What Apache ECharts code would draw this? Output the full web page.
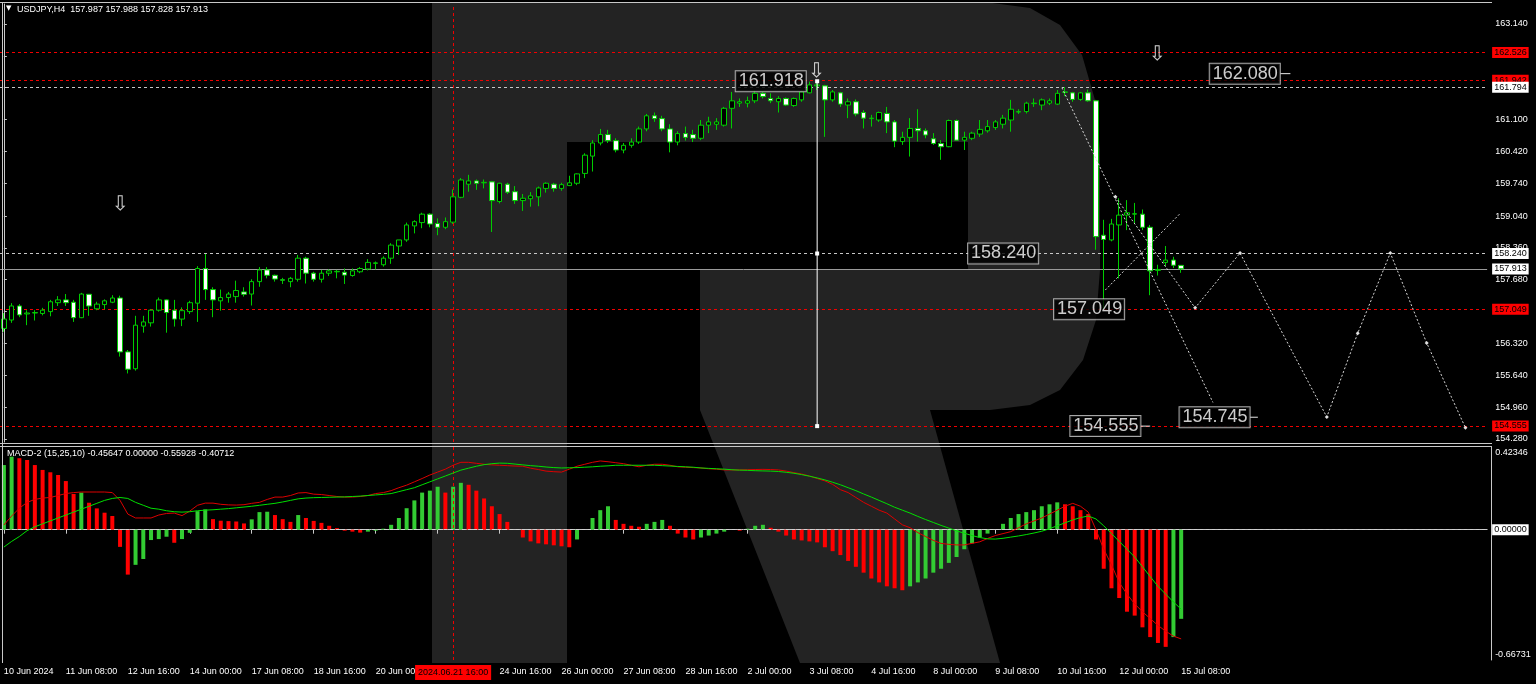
<!DOCTYPE html>
<html><head><meta charset="utf-8">
<script src="https://cdn.jsdelivr.net/npm/echarts@6/dist/echarts.min.js"></script>
<style>html,body{margin:0;padding:0;background:#000;}#c{width:1536px;height:684px;}</style>
</head><body><div id="c"></div><script>
const symbolName = 'USDJPY,H4';
const tickLabels = ['10 Jun 2024','11 Jun 08:00','12 Jun 16:00','14 Jun 00:00','17 Jun 08:00','18 Jun 16:00','20 Jun 00:00','21 Jun 08:00','24 Jun 16:00','26 Jun 00:00','27 Jun 08:00','28 Jun 16:00','2 Jul 00:00','3 Jul 08:00','4 Jul 16:00','8 Jul 00:00','9 Jul 08:00','10 Jul 16:00','12 Jul 00:00','15 Jul 08:00'];
const crossTime = '2024.06.21 16:00';
const crossBar = 58;

const opens = [156.64,156.82,157.12,156.95,156.97,156.96,157.00,157.19,157.25,157.20,
156.87,157.37,157.06,157.15,157.20,157.29,156.14,155.78,156.69,156.76,
157.03,157.25,157.03,156.84,157.00,157.18,157.92,157.47,157.23,157.30,
157.32,157.42,157.375,157.64,157.89,157.775,157.68,157.64,157.69,158.14,
157.82,157.69,157.82,157.85,157.84,157.77,157.85,157.91,158.03,158.00,
158.14,158.40,158.53,158.83,158.90,159.08,158.88,158.80,158.91,159.44,
159.72,159.79,159.75,159.77,159.35,159.72,159.56,159.37,159.41,159.45,
159.63,159.72,159.63,159.69,159.74,159.95,160.32,160.60,160.78,160.65,
160.45,160.55,160.62,160.90,161.18,161.12,160.90,160.62,160.80,160.78,
160.70,160.98,161.00,160.98,161.34,161.45,161.45,161.50,161.66,161.55,
161.48,161.55,161.40,161.52,161.67,161.82,161.82,161.52,161.67,161.41,
161.48,161.25,161.12,161.09,161.23,161.05,160.63,160.72,160.91,160.86,
160.69,160.59,160.52,161.08,160.66,160.70,160.79,160.86,160.93,161.00,
161.09,161.26,161.27,161.44,161.41,161.45,161.43,161.68,161.67,161.53,
161.67,161.50,158.63,158.53,158.85,159.06,159.08,159.08,158.80,157.88,
158.05,158.10,157.987];
const highs = [156.97,157.18,157.16,157.03,157.03,157.08,157.25,157.33,157.375,157.25,
157.40,157.37,157.21,157.26,157.35,157.34,156.18,156.91,156.91,157.05,
157.30,157.26,157.25,157.09,157.23,157.97,158.23,157.52,157.47,157.42,
157.66,157.52,157.69,157.95,157.95,157.79,157.72,157.74,158.21,158.17,
157.85,157.89,157.90,157.89,157.92,157.92,157.95,158.12,158.07,158.18,
158.46,158.53,158.90,158.95,159.11,159.10,158.99,159.01,159.61,159.85,
159.92,159.82,159.82,159.79,159.75,159.75,159.68,159.51,159.55,159.67,
159.76,159.75,159.75,159.90,159.95,160.38,160.66,160.90,160.88,160.70,
160.60,160.70,160.95,161.22,161.25,161.18,161.00,160.85,160.95,160.88,
161.09,161.16,161.13,161.37,161.69,161.55,161.59,161.73,161.69,161.66,
161.60,161.57,161.57,161.73,161.91,161.918,161.84,161.73,161.69,161.55,
161.53,161.30,161.20,161.27,161.37,161.09,160.84,161.13,161.32,160.91,
160.81,160.66,161.10,161.10,160.84,160.84,161.09,161.09,161.09,161.20,
161.52,161.32,161.48,161.55,161.55,161.55,161.73,161.794,161.69,161.69,
161.74,161.52,158.96,158.98,159.42,159.38,159.32,159.18,158.85,158.00,
158.40,158.17,157.988];
const lows = [156.57,156.76,156.88,156.71,156.81,156.92,156.90,157.12,157.12,156.78,
156.86,156.91,157.03,157.05,157.18,156.04,155.68,155.74,156.55,156.68,
157.00,156.55,156.68,156.69,156.95,156.78,157.25,156.88,157.02,157.19,
157.19,157.32,157.13,157.53,157.71,157.64,157.59,157.52,157.64,157.60,
157.64,157.62,157.76,157.71,157.59,157.745,157.82,157.88,157.90,157.96,
158.02,158.21,158.49,158.67,158.78,158.80,158.63,158.76,158.87,159.42,
159.56,159.60,159.63,158.70,159.31,159.51,159.30,159.15,159.24,159.25,
159.54,159.56,159.58,159.68,159.70,159.85,159.99,160.55,160.60,160.40,
160.38,160.50,160.58,160.85,161.05,160.85,160.40,160.55,160.65,160.62,
160.66,160.81,160.88,160.95,160.91,161.37,161.36,161.45,161.55,161.45,
161.25,161.39,161.37,161.48,161.66,161.73,160.73,161.48,161.37,161.13,
161.17,160.91,160.95,161.05,160.81,160.51,160.56,160.31,160.63,160.70,
160.56,160.24,160.51,160.65,160.45,160.66,160.73,160.82,160.88,160.91,
160.84,161.22,161.23,161.37,161.30,161.41,161.41,161.60,161.48,161.50,
161.48,158.32,157.049,158.50,157.71,158.74,158.87,158.74,157.35,157.77,
157.97,157.93,157.828];
const closes = [156.84,157.12,156.93,156.97,156.98,157.03,157.21,157.25,157.19,156.87,
157.375,157.12,157.16,157.23,157.29,156.14,155.77,156.71,156.78,157.03,
157.25,156.98,156.84,157.02,157.19,157.92,157.47,157.25,157.30,157.375,
157.45,157.37,157.64,157.89,157.775,157.695,157.67,157.71,158.14,157.82,
157.69,157.82,157.87,157.86,157.78,157.87,157.92,158.05,158.04,158.14,
158.42,158.53,158.85,158.92,159.08,158.87,158.80,158.92,159.45,159.81,
159.79,159.74,159.76,159.37,159.74,159.55,159.37,159.42,159.47,159.64,
159.74,159.63,159.71,159.75,159.94,160.34,160.60,160.78,160.65,160.45,
160.55,160.62,160.90,161.18,161.12,160.90,160.62,160.80,160.72,160.70,
160.98,161.05,161.05,161.34,161.50,161.48,161.50,161.66,161.59,161.50,
161.55,161.41,161.55,161.69,161.84,161.84,161.52,161.69,161.43,161.48,
161.22,161.13,161.13,161.25,161.05,160.64,160.72,160.91,160.86,160.77,
160.59,160.52,161.08,160.66,160.72,160.81,160.89,160.95,161.05,161.13,
161.32,161.27,161.45,161.45,161.52,161.50,161.66,161.69,161.53,161.67,
161.50,158.60,158.54,158.87,159.06,159.11,159.09,158.80,157.87,157.90,
158.10,157.99,157.913];

const macdHist = [0.331,0.374,0.366,0.357,0.331,0.306,0.294,0.28,0.249,0.183,
0.19,0.138,0.109,0.087,0.07,-0.088,-0.23,-0.18,-0.15,-0.053,
-0.048,-0.036,-0.067,-0.048,-0.016,0.095,0.104,0.054,0.046,0.044,
0.042,0.032,0.053,0.09,0.092,0.075,0.054,0.04,0.075,0.06,
0.045,0.035,0.02,0.008,-0.005,-0.01,-0.015,-0.01,-0.005,0.005,
0.025,0.06,0.11,0.15,0.19,0.2,0.22,0.19,0.22,0.24,
0.23,0.2,0.16,0.12,0.08,0.04,0.0,-0.04,-0.06,-0.07,
-0.075,-0.08,-0.085,-0.09,-0.05,0.0,0.06,0.1,0.12,0.05,
0.03,0.02,0.015,0.03,0.04,0.05,0.02,-0.02,-0.04,-0.05,
-0.04,-0.03,-0.02,-0.01,0.0,-0.005,0.005,0.02,0.025,0.01,
-0.01,-0.03,-0.05,-0.055,-0.06,-0.065,-0.09,-0.11,-0.13,-0.16,
-0.19,-0.22,-0.25,-0.27,-0.29,-0.3,-0.31,-0.29,-0.27,-0.25,
-0.22,-0.2,-0.17,-0.14,-0.1,-0.07,-0.04,-0.02,0.0,0.03,
0.06,0.08,0.09,0.1,0.12,0.13,0.14,0.13,0.12,0.1,
0.08,-0.05,-0.2,-0.3,-0.35,-0.42,-0.44,-0.5,-0.55,-0.58,
-0.6,-0.55,-0.45647];
const macdRed = [0.024,0.07,0.11,0.14,0.155,0.162,0.165,0.175,0.185,0.19,
0.193,0.193,0.193,0.193,0.19,0.15,0.08,0.06,0.06,0.06,
0.075,0.083,0.085,0.072,0.095,0.125,0.136,0.136,0.13,0.127,
0.126,0.128,0.135,0.14,0.155,0.167,0.167,0.175,0.188,0.19,
0.182,0.18,0.175,0.17,0.167,0.167,0.17,0.175,0.185,0.19,
0.2,0.215,0.228,0.245,0.262,0.28,0.295,0.31,0.33,0.345,
0.345,0.34,0.335,0.332,0.33,0.328,0.326,0.325,0.315,0.308,
0.3,0.297,0.295,0.31,0.325,0.335,0.345,0.352,0.348,0.343,
0.338,0.33,0.322,0.33,0.335,0.335,0.33,0.322,0.32,0.318,
0.316,0.312,0.31,0.306,0.306,0.306,0.307,0.308,0.309,0.308,
0.306,0.3,0.292,0.285,0.275,0.262,0.25,0.232,0.205,0.19,
0.165,0.14,0.12,0.1,0.085,0.055,0.025,0.01,-0.015,-0.035,
-0.055,-0.07,-0.075,-0.078,-0.078,-0.07,-0.062,-0.045,-0.03,-0.02,
-0.01,0.01,0.03,0.045,0.06,0.08,0.1,0.12,0.135,0.12,
0.09,0.0,-0.1,-0.18,-0.27,-0.33,-0.38,-0.42,-0.455,-0.49,
-0.52,-0.545,-0.55928];
const macdGreen = [-0.089,-0.06,-0.035,-0.005,0.015,0.03,0.045,0.06,0.075,0.09,
0.105,0.12,0.135,0.15,0.16,0.165,0.16,0.14,0.125,0.11,
0.105,0.097,0.092,0.09,0.092,0.097,0.1,0.102,0.105,0.108,
0.112,0.116,0.12,0.125,0.13,0.135,0.142,0.15,0.158,0.162,
0.164,0.165,0.166,0.167,0.168,0.17,0.172,0.175,0.178,0.181,
0.185,0.195,0.205,0.215,0.23,0.245,0.26,0.275,0.29,0.305,
0.315,0.325,0.333,0.338,0.341,0.34,0.336,0.332,0.328,0.325,
0.321,0.318,0.316,0.317,0.318,0.32,0.322,0.325,0.327,0.33,
0.33,0.33,0.33,0.33,0.33,0.328,0.326,0.324,0.322,0.32,
0.316,0.314,0.312,0.31,0.307,0.305,0.304,0.302,0.301,0.3,
0.298,0.294,0.289,0.282,0.274,0.265,0.255,0.243,0.23,0.215,
0.2,0.183,0.167,0.15,0.133,0.115,0.1,0.085,0.068,0.052,
0.037,0.022,0.008,-0.006,-0.018,-0.03,-0.04,-0.047,-0.048,-0.044,
-0.038,-0.032,-0.025,-0.017,-0.008,0.005,0.02,0.035,0.05,0.062,
0.07,0.055,0.02,-0.02,-0.06,-0.1,-0.14,-0.19,-0.24,-0.29,
-0.33,-0.37,-0.40712];

const priceTicks = [163.140,162.460,161.780,161.100,160.420,159.740,159.040,158.360,157.680,157.000,156.320,155.640,154.960,154.280];
const macdTicks = [0.42346,-0.66731];
const levelValues = [162.526,161.942,161.794,158.240,157.913,157.049,154.555];
const levelKinds = ['red','red','white','white','bid','red','red'];

const projA = [[136.6,161.78],[156.1,155.06]];
const projB = [[143.5,159.45],[153.8,157.08],[159.6,158.25],[170.8,154.75],[174.8,156.54],[179.0,158.25],[183.7,156.33],[188.7,154.52]];
const projC = [[142.2,157.46],[151.9,159.10]];
const measureLine = [[105,161.918],[105,158.240],[105,154.555]];
const calloutText = ['161.918','162.080','158.240','157.049','154.555','154.745'];
const calloutX = [103.6,164.8,133.6,144.7,146.8,160.9];
const calloutY = [161.918,162.080,158.240,157.049,154.555,154.745];
const calloutTailEnd = [null,166.1,null,null,148.0,161.9];
const arrowX = [15.0,104.9,148.9];
const arrowY = [159.28,162.12,162.48];

const N = 192;
const cats = Array.from({length:N},(_, i)=>String(i));
const FONT = 'Liberation Sans';
const GREEN = '#00cc00';
const RED_LINE = '#f00000';

const chart = echarts.init(document.getElementById('c'), null, {renderer:'canvas'});

const levelLines = levelValues.map((v,i)=>{
  const k = levelKinds[i];
  const isRed = k==='red';
  return {
    yAxis: v,
    lineStyle: {color: isRed ? RED_LINE : (k==='bid' ? '#9a9a9a' : '#c8c8c8'), type: k==='bid' ? 'solid' : [3,3], width: 1, opacity: 1},
    label: {show:true, position:'end', distance:5, formatter: v.toFixed(3), fontFamily: FONT, fontSize: 9,
      color:'#000', backgroundColor: isRed ? '#ff0000' : '#ffffff', padding:[1,2,0,2], lineHeight: 10}
  };
});

const overlaySeries = [];
function projLine(pts, sym){
  overlaySeries.push({type:'line', xAxisIndex:1, yAxisIndex:0, data: pts, silent:true, z:6,
    showSymbol: !!sym, symbol: sym||'none', symbolSize: 4, itemStyle:{color:'#e0e0e0'},
    lineStyle:{color:'#d8d8d8', width:1, type:[2,2]}, animation:false});
}
projLine(projA);
projLine(projB, 'diamond');
projLine(projC);
overlaySeries.push({type:'line', xAxisIndex:1, yAxisIndex:0, data: measureLine, silent:true, z:6,
  symbol:'rect', symbolSize:4, showSymbol:true, itemStyle:{color:'#fff'}, lineStyle:{color:'#fff', width:1}, animation:false});
calloutTailEnd.forEach((e,i)=>{
  if(e===null) return;
  overlaySeries.push({type:'line', xAxisIndex:1, yAxisIndex:0, data:[[calloutX[i],calloutY[i]],[e,calloutY[i]]], silent:true, z:7,
    symbol:'none', lineStyle:{color:'#e8e8e8', width:1}, animation:false});
});
overlaySeries.push({type:'scatter', xAxisIndex:1, yAxisIndex:0, z:9, silent:true, animation:false,
  data: calloutX.map((x,i)=>[x, calloutY[i]]), symbolSize:1, itemStyle:{color:'rgba(0,0,0,0)'},
  label:{show:true, position:'left', distance:0, formatter: p=>calloutText[p.dataIndex], fontFamily:FONT, fontSize:18,
    color:'#fff', backgroundColor:'#000', borderColor:'#d0d0d0', borderWidth:1, padding:[1,2,0,3], lineHeight:19}});
overlaySeries.push({type:'scatter', xAxisIndex:1, yAxisIndex:0, z:10, silent:true, animation:false,
  data: arrowX.map((x,i)=>[x, arrowY[i]]), symbolSize:1, itemStyle:{color:'rgba(0,0,0,0)'},
  label:{show:true, position:'inside', formatter:'\u21e9', fontFamily:'DejaVu Sans', fontSize:20, color:'#fff'}});

const histData = macdHist.map((v,i)=>({value:v, itemStyle:{color: (i===0 || v>=macdHist[i-1]) ? '#33cc33' : '#ff0000'}}));

const last = opens.length-1;
const title1 = symbolName + '  ' + opens[last].toFixed(3) + ' ' + highs[last].toFixed(3) + ' ' + lows[last].toFixed(3) + ' ' + closes[last].toFixed(3);
const title2 = 'MACD-2 (15,25,10) ' + macdHist[last].toFixed(5) + ' 0.00000 ' + macdRed[last].toFixed(5) + ' ' + macdGreen[last].toFixed(5);

const LOGO = '#232323';
const bowlPts = [[567,2],[985,2],[1030,8],[1060,25],[1082,55],[1095,100],[1100,150],[1100,270],[1096,320],[1083,360],[1060,390],[1030,405],[990,410],[700,410],[700,270],[968,270],[968,142],[567,142]];
const option = {
  backgroundColor:'#000',
  animation:false,
  grid:[
    {left:-0.875, width:1488, top:4, height:438},
    {left:-0.875, width:1488, top:447, height:213}
  ],
  xAxis:[
    {type:'category', gridIndex:0, data:cats, boundaryGap:true, show:false},
    {type:'value', gridIndex:0, min:-0.5, max:N-0.5, show:false},
    {type:'category', gridIndex:1, data:cats, boundaryGap:true, offset:3,
      axisLine:{show:true, lineStyle:{color:'#c8c8c8'}},
      axisTick:{show:true, alignWithLabel:true, length:4, interval:(idx)=>idx%8===0 && idx/8<tickLabels.length, lineStyle:{color:'#c8c8c8'}},
      axisLabel:{show:true, interval:(idx)=>idx%8===0 && idx/8<tickLabels.length, formatter:(v,idx)=>tickLabels[idx/8]||'',
        align:'left', margin:4, color:'#ffffff', fontFamily:FONT, fontSize:9},
      splitLine:{show:false}}
  ],
  yAxis:[
    {type:'value', gridIndex:0, position:'right', offset:4, min:154.216, max:163.567, scale:true,
      axisLine:{show:true, lineStyle:{color:'#c8c8c8'}},
      axisTick:{show:true, customValues:priceTicks, length:3, lineStyle:{color:'#c8c8c8'}},
      axisLabel:{show:true, customValues:priceTicks, formatter:v=>v.toFixed(3), color:'#ffffff', fontFamily:FONT, fontSize:9, margin:4},
      splitLine:{show:false}},
    {type:'value', gridIndex:1, position:'right', offset:4, min:-0.66731, max:0.42346,
      axisLine:{show:true, lineStyle:{color:'#c8c8c8'}},
      axisTick:{show:false},
      axisLabel:{show:true, customValues:macdTicks, margin:4,
        formatter:v=> v>0 ? '{t|'+v.toFixed(5)+'}' : '{b|'+v.toFixed(5)+'}',
        rich:{t:{padding:[11,0,0,0], color:'#fff', fontFamily:FONT, fontSize:9},
              b:{padding:[0,0,11,0], color:'#fff', fontFamily:FONT, fontSize:9}}},
      splitLine:{show:false}}
  ],
  series:[
    {type:'candlestick', xAxisIndex:0, yAxisIndex:0, barWidth:5, z:4,
      data: opens.map((o,i)=>[o, closes[i], lows[i], highs[i]]),
      itemStyle:{color:'#000', color0:'#fff', borderColor:GREEN, borderColor0:GREEN, borderWidth:1},
      markLine:{silent:true, symbol:'none', animation:false, z:3,
        data: levelLines.concat([{xAxis:crossBar, lineStyle:{color:RED_LINE, type:[3,3], width:1}, label:{show:false}}])}},
    ...overlaySeries,
    {type:'bar', xAxisIndex:2, yAxisIndex:1, barWidth:4, data:histData, z:3,
      markLine:{silent:true, symbol:'none', animation:false,
        data:[
          {yAxis:0, lineStyle:{color:'#d0d0d0', type:[3,3], width:1},
            label:{show:true, position:'end', distance:5, formatter:'0.00000', fontFamily:FONT, fontSize:9, color:'#000', backgroundColor:'#fff', padding:[1,2,0,2], lineHeight:10}},
          {xAxis:crossBar, lineStyle:{color:RED_LINE, type:[3,3], width:1},
            label:{show:true, position:'start', distance:5, formatter:crossTime, fontFamily:FONT, fontSize:9, color:'#000', backgroundColor:'#ff0000', padding:[2,3,2,3], lineHeight:11}}
        ]}},
    {type:'line', xAxisIndex:2, yAxisIndex:1, data:macdRed, symbol:'none', lineStyle:{color:'#dd0000', width:1}, z:5},
    {type:'line', xAxisIndex:2, yAxisIndex:1, data:macdGreen, symbol:'none', lineStyle:{color:'#00e000', width:1}, z:5}
  ],
  graphic:{elements:[
    {type:'rect', z:-10, silent:true, shape:{x:432, y:2, width:135, height:661}, style:{fill:LOGO}},
    {type:'polygon', z:-10, silent:true, shape:{points:bowlPts}, style:{fill:LOGO}},
    {type:'polygon', z:-10, silent:true, shape:{points:[[700,410],[930,410],[1000,663],[800,663]]}, style:{fill:LOGO}},
    {type:'line', z:50, silent:true, shape:{x1:2.5, y1:2, x2:2.5, y2:663}, style:{stroke:'#c8c8c8', lineWidth:1}},
    {type:'line', z:50, silent:true, shape:{x1:0, y1:2.5, x2:1492, y2:2.5}, style:{stroke:'#c8c8c8', lineWidth:1}},
    {type:'line', z:50, silent:true, shape:{x1:0, y1:443.5, x2:1492, y2:443.5}, style:{stroke:'#c8c8c8', lineWidth:1}},
    {type:'line', z:50, silent:true, shape:{x1:0, y1:446.5, x2:1492, y2:446.5}, style:{stroke:'#c8c8c8', lineWidth:1}},
    {type:'text', z:50, silent:true, x:6, y:5, style:{text:'\u25bc', fill:'#fff', font:'7px "DejaVu Sans"'}},
    {type:'text', z:50, silent:true, x:17, y:5, style:{text:title1, fill:'#fff', font:'9px "Liberation Sans"'}},
    {type:'text', z:50, silent:true, x:7, y:449, style:{text:title2, fill:'#fff', font:'9px "Liberation Sans"'}}
  ]}
};
chart.setOption(option);
</script></body></html>
